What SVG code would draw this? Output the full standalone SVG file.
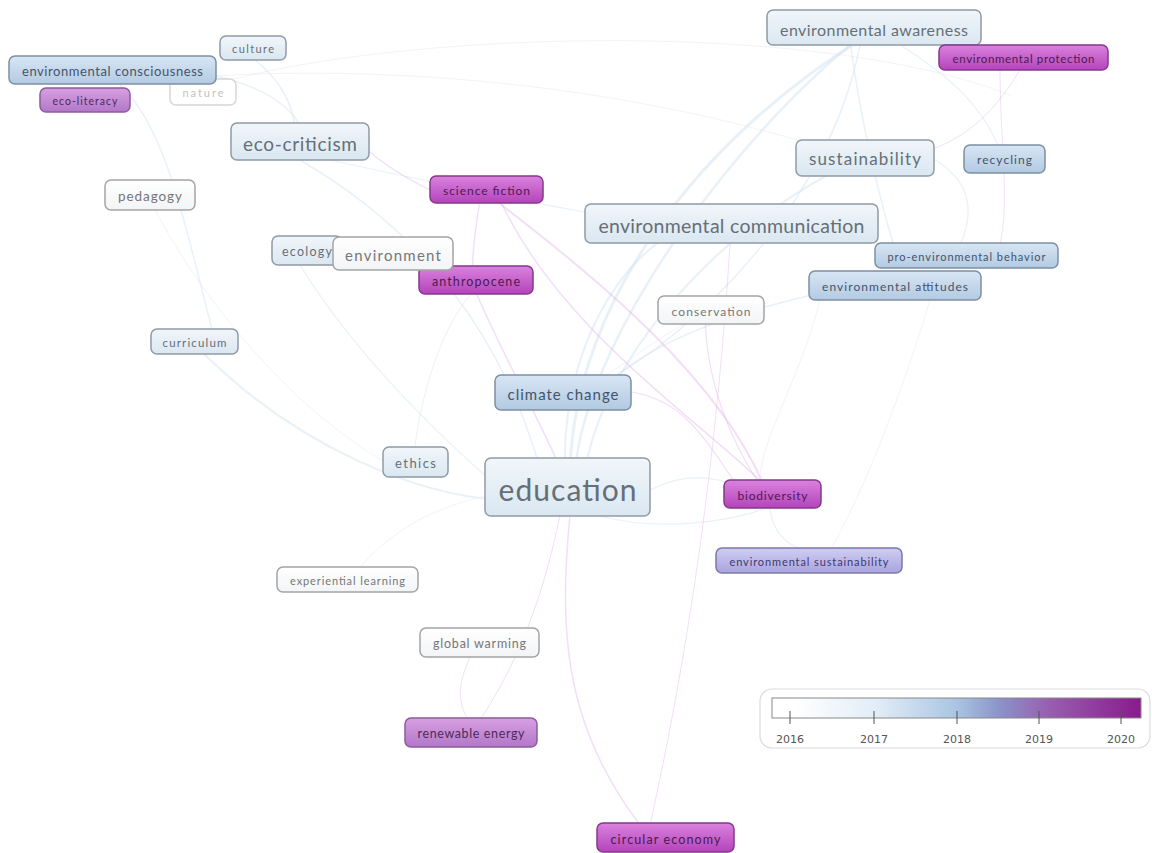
<svg xmlns="http://www.w3.org/2000/svg" width="1152" height="853" viewBox="0 0 1152 853">
<defs>
<linearGradient id="g16" x1="0" y1="0" x2="0" y2="1"><stop offset="0" stop-color="#ffffff"/><stop offset="1" stop-color="#f2f4f6"/></linearGradient>
<linearGradient id="g17" x1="0" y1="0" x2="0" y2="1"><stop offset="0" stop-color="#f1f6fa"/><stop offset="1" stop-color="#dae7f1"/></linearGradient>
<linearGradient id="g18" x1="0" y1="0" x2="0" y2="1"><stop offset="0" stop-color="#d8e6f4"/><stop offset="1" stop-color="#b2cae2"/></linearGradient>
<linearGradient id="g19" x1="0" y1="0" x2="0" y2="1"><stop offset="0" stop-color="#cfcdf3"/><stop offset="1" stop-color="#a9a4de"/></linearGradient>
<linearGradient id="g195" x1="0" y1="0" x2="0" y2="1"><stop offset="0" stop-color="#d8a0e2"/><stop offset="1" stop-color="#b277c8"/></linearGradient>
<linearGradient id="g20" x1="0" y1="0" x2="0" y2="1"><stop offset="0" stop-color="#da82de"/><stop offset="1" stop-color="#b444ba"/></linearGradient>
<linearGradient id="gbar" x1="0" y1="0" x2="1" y2="0">
<stop offset="0" stop-color="#ffffff"/><stop offset="0.06" stop-color="#ffffff"/>
<stop offset="0.28" stop-color="#e2edf8"/><stop offset="0.5" stop-color="#a9c5e2"/>
<stop offset="0.62" stop-color="#8a92c8"/><stop offset="0.74" stop-color="#9862b2"/>
<stop offset="1" stop-color="#8a1a8c"/>
</linearGradient>
</defs>
<style>
text{font-family:Lato,"Noto Sans","Liberation Sans",sans-serif;text-anchor:middle;dominant-baseline:central}
rect.n{rx:6;ry:6;stroke-width:1.5}
.y16 rect{fill:url(#g16);stroke:#a4a4a4}.y16 text{fill:#767676}
.y17 rect{fill:url(#g17);stroke:#8f9ba6}.y17 text{fill:#666f78}
.y18 rect{fill:url(#g18);stroke:#7d8fa3}.y18 text{fill:#45536a}
.y19 rect{fill:url(#g19);stroke:#7b78aa}.y19 text{fill:#3c3a6c}
.y195 rect{fill:url(#g195);stroke:#8c5c9c}.y195 text{fill:#4e2a58}
.y20 rect{fill:url(#g20);stroke:#84398c}.y20 text{fill:#4c1a50}
.faint rect{fill:#ffffff;stroke:#d6d6d6}.faint text{fill:#c2c2c2}
#edges path{fill:none;stroke-linecap:round}
.eb{stroke:#cfe0ef;opacity:0.45}
.ep{stroke:#e2b6ec;opacity:0.45}
.eg{stroke:#e8e8ee;opacity:0.5}
.leg text{fill:#555;font-size:11px;font-family:"DejaVu Sans","Liberation Sans",sans-serif}
</style>
<rect width="1152" height="853" fill="#ffffff"/>
<g id="edges">
<path class="eg" stroke-width="1" d="M230,80 C420,30 820,20 1010,95"/>
<path class="eg" stroke-width="1" d="M120,85 C300,60 600,70 860,160"/>
<path class="eb" stroke-width="3" d="M570,470 C575,300 700,140 860,40"/>
<path class="eb" stroke-width="2.5" d="M575,470 C590,320 760,110 870,30"/>
<path class="eb" stroke-width="2" d="M565,470 C560,330 650,200 740,225"/>
<path class="eb" stroke-width="2" d="M585,470 C610,330 760,200 860,160"/>
<path class="eb" stroke-width="1.5" d="M860,45 C830,200 700,330 600,385"/>
<path class="eb" stroke-width="1.5" d="M850,40 C860,120 880,200 895,250"/>
<path class="eb" stroke-width="1.5" d="M600,390 C660,330 780,300 860,285"/>
<path class="eb" stroke-width="1.2" d="M1000,150 C980,100 940,70 900,45"/>
<path class="eb" stroke-width="1.2" d="M935,160 C960,175 980,200 960,245"/>
<path class="ep" stroke-width="1" d="M1020,70 C990,120 960,140 925,152"/>
<path class="ep" stroke-width="1" d="M1000,70 C1000,140 1010,200 1000,245"/>
<path class="ep" stroke-width="2" d="M495,200 C600,280 720,380 765,488"/>
<path class="ep" stroke-width="1.5" d="M500,200 C560,330 700,420 770,490"/>
<path class="ep" stroke-width="1.5" d="M480,200 C470,260 470,300 480,290"/>
<path class="ep" stroke-width="1.5" d="M475,290 C500,350 540,420 560,468"/>
<path class="ep" stroke-width="1.2" d="M430,190 C400,175 385,165 370,152"/>
<path class="ep" stroke-width="1.2" d="M705,310 C705,380 730,440 760,485"/>
<path class="ep" stroke-width="1.2" d="M740,490 C700,430 680,400 632,392"/>
<path class="ep" stroke-width="1.5" d="M640,825 C560,720 560,620 570,515"/>
<path class="ep" stroke-width="1" d="M650,825 C700,600 720,400 730,245"/>
<path class="ep" stroke-width="1" d="M470,657 C455,690 460,705 468,720"/>
<path class="ep" stroke-width="1" d="M480,720 C520,660 545,590 560,515"/>
<path class="eb" stroke-width="1.2" d="M650,490 C690,470 720,478 740,488"/>
<path class="eb" stroke-width="1.2" d="M600,516 C660,532 730,522 770,507"/>
<path class="eb" stroke-width="1.2" d="M770,508 C772,530 785,545 805,550"/>
<path class="eb" stroke-width="2" d="M200,350 C300,450 420,495 500,500"/>
<path class="eb" stroke-width="1.5" d="M120,85 C170,130 190,250 215,340"/>
<path class="eb" stroke-width="1.5" d="M150,68 C220,70 280,90 300,125"/>
<path class="eb" stroke-width="1.5" d="M255,60 C280,80 290,100 295,124"/>
<path class="eb" stroke-width="1.5" d="M300,160 C420,230 500,330 540,468"/>
<path class="eb" stroke-width="1.2" d="M330,160 C420,180 520,200 600,215"/>
<path class="eb" stroke-width="1.2" d="M300,265 C340,330 400,400 490,480"/>
<path class="eb" stroke-width="1" d="M415,447 C420,400 440,330 470,295"/>
<path class="eg" stroke-width="1" d="M150,200 C200,300 300,420 400,470"/>
<path class="eg" stroke-width="1" d="M350,580 C380,540 420,510 490,495"/>
<path class="eg" stroke-width="1" d="M710,310 C650,340 620,370 600,378"/>
<path class="eg" stroke-width="1" d="M820,300 C800,380 760,440 760,480"/>
<path class="eg" stroke-width="1" d="M930,300 C900,400 860,500 830,550"/>
</g>
<g id="nodes">
<g id="n-nature" class="faint"><rect class="n" x="170" y="79" width="66" height="26"/><text x="203" y="92" font-size="11" textLength="41">nature</text></g>
<g id="n-culture" class="y17"><rect class="n" x="220" y="36" width="66" height="24"/><text x="253" y="48" font-size="11" textLength="42">culture</text></g>
<g id="n-envcons" class="y18"><rect class="n" x="9" y="56" width="207" height="28"/><text x="112.5" y="71" font-size="13" textLength="181">environmental consciousness</text></g>
<g id="n-ecolit" class="y195"><rect class="n" x="40" y="88" width="90" height="24"/><text x="85" y="101" font-size="10.5" textLength="65">eco-literacy</text></g>
<g id="n-ecocrit" class="y17"><rect class="n" x="231" y="123" width="138" height="37"/><text x="300" y="143" font-size="19" textLength="114">eco-criticism</text></g>
<g id="n-pedagogy" class="y16"><rect class="n" x="105" y="180" width="90" height="30"/><text x="150" y="196" font-size="13.5" textLength="64">pedagogy</text></g>
<g id="n-scifi" class="y20"><rect class="n" x="430" y="176" width="113" height="27"/><text x="486.5" y="190" font-size="12" textLength="87">science fiction</text></g>
<g id="n-ecology" class="y17"><rect class="n" x="272" y="236" width="70" height="29"/><text x="307" y="251" font-size="12.5" textLength="50">ecology</text></g>
<g id="n-anthro" class="y20"><rect class="n" x="419" y="266" width="114" height="28"/><text x="476" y="281" font-size="12.5" textLength="88">anthropocene</text></g>
<g id="n-environment" class="y16"><rect class="n" x="333" y="237" width="120" height="33"/><text x="393" y="255" font-size="15" textLength="96">environment</text></g>
<g id="n-curriculum" class="y17"><rect class="n" x="151" y="329" width="87" height="25"/><text x="194.5" y="342" font-size="11.5" textLength="64">curriculum</text></g>
<g id="n-envaware" class="y17"><rect class="n" x="767" y="10" width="214" height="35"/><text x="874" y="29" font-size="16" textLength="188">environmental awareness</text></g>
<g id="n-envprot" class="y20"><rect class="n" x="939" y="45" width="169" height="25"/><text x="1023.5" y="58" font-size="11.5" textLength="142">environmental protection</text></g>
<g id="n-sustain" class="y17"><rect class="n" x="796" y="140" width="138" height="36"/><text x="865" y="158" font-size="17" textLength="112">sustainability</text></g>
<g id="n-recycling" class="y18"><rect class="n" x="964" y="145" width="81" height="28"/><text x="1004.5" y="159" font-size="12" textLength="55">recycling</text></g>
<g id="n-envcomm" class="y17"><rect class="n" x="585" y="204" width="293" height="39"/><text x="731.5" y="225" font-size="19.5" textLength="266">environmental communication</text></g>
<g id="n-proenv" class="y18"><rect class="n" x="875" y="243" width="183" height="25"/><text x="966.5" y="256" font-size="11" textLength="158">pro-environmental behavior</text></g>
<g id="n-envatt" class="y18"><rect class="n" x="809" y="271" width="172" height="29"/><text x="895" y="286" font-size="12" textLength="146">environmental attitudes</text></g>
<g id="n-conservation" class="y16"><rect class="n" x="658" y="296" width="106" height="28"/><text x="711" y="311" font-size="12" textLength="79">conservation</text></g>
<g id="n-climate" class="y18"><rect class="n" x="495" y="375" width="136" height="35"/><text x="563" y="394" font-size="15" textLength="111">climate change</text></g>
<g id="n-ethics" class="y17"><rect class="n" x="383" y="447" width="65" height="30"/><text x="415.5" y="463" font-size="13" textLength="41">ethics</text></g>
<g id="n-education" class="y17"><rect class="n" x="485" y="458" width="165" height="58"/><text x="567.5" y="489" font-size="30" textLength="138">education</text></g>
<g id="n-biodiv" class="y20"><rect class="n" x="724" y="480" width="97" height="28"/><text x="772.5" y="495" font-size="12" textLength="70">biodiversity</text></g>
<g id="n-envsust" class="y19"><rect class="n" x="716" y="548" width="186" height="25"/><text x="809" y="561" font-size="11" textLength="159">environmental sustainability</text></g>
<g id="n-explearn" class="y16"><rect class="n" x="277" y="567" width="141" height="25"/><text x="347.5" y="580" font-size="11" textLength="115">experiential learning</text></g>
<g id="n-globalwarm" class="y16"><rect class="n" x="420" y="628" width="119" height="29"/><text x="479.5" y="643" font-size="12.5" textLength="93">global warming</text></g>
<g id="n-renew" class="y195"><rect class="n" x="405" y="718" width="132" height="29"/><text x="471" y="733" font-size="12.5" textLength="107">renewable energy</text></g>
<g id="n-circular" class="y20"><rect class="n" x="597" y="823" width="137" height="29"/><text x="665.5" y="839" font-size="12.5" textLength="110">circular economy</text></g>
</g>
<g id="legend" class="leg">
<rect x="760" y="689" width="390" height="59" rx="12" ry="12" fill="#ffffff" stroke="#dcdcdc" stroke-width="1.2"/>
<rect x="772" y="698" width="369" height="20" fill="url(#gbar)" stroke="#888" stroke-width="1"/>
<g stroke="#555" stroke-width="1">
<line x1="790" y1="711" x2="790" y2="724"/><line x1="874" y1="711" x2="874" y2="724"/><line x1="957" y1="711" x2="957" y2="724"/><line x1="1039" y1="711" x2="1039" y2="724"/><line x1="1121" y1="711" x2="1121" y2="724"/>
</g>
<text x="790" y="739">2016</text><text x="874" y="739">2017</text><text x="957" y="739">2018</text><text x="1039" y="739">2019</text><text x="1121" y="739">2020</text>
</g>
</svg>
